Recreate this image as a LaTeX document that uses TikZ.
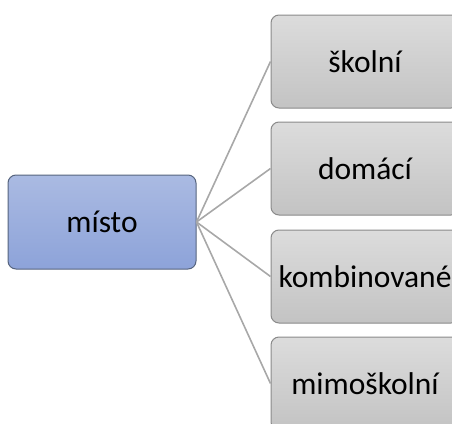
\documentclass[tikz,border=0pt]{standalone}
\usepackage{fontspec}
\setmainfont{Carlito}
\definecolor{btop}{HTML}{AABAE2}
\definecolor{bbot}{HTML}{8DA3D9}
\definecolor{bedge}{HTML}{56647E}
\definecolor{gtop}{HTML}{DCDCDC}
\definecolor{gbot}{HTML}{C3C3C3}
\definecolor{gedge}{HTML}{8A8A8A}
\definecolor{lcol}{HTML}{A8A8A8}
\begin{document}
\begin{tikzpicture}[x=1pt,y=-1pt,
  mainbox/.style={draw=bedge, line width=1pt, rounded corners=8pt,
    top color=btop, bottom color=bbot,
    minimum width=188pt, minimum height=94pt, inner sep=0pt,
    font=\fontsize{31.5}{37}\selectfont},
  subbox/.style={draw=gedge, line width=1pt, rounded corners=8pt,
    top color=gtop, bottom color=gbot,
    minimum width=188pt, minimum height=93pt, inner sep=0pt,
    font=\fontsize{31.5}{37}\selectfont},
  conn/.style={draw=lcol, line width=1.6pt}]
\useasboundingbox (0,0) rectangle (452,423);
\clip (0,0) rectangle (452,423);
\node[mainbox] (m) at (102,222) {místo};
\node[subbox] (s1) at (365,61.5) {školní};
\node[subbox] (s2) at (365,168.5) {domácí};
\node[subbox] (s3) at (365,276.5) {kombinované};
\node[subbox] (s4) at (365,383.5) {mimoškolní};
\foreach \s in {s1,s2,s3,s4}
  \draw[conn] (m.east) -- (\s.west);
\end{tikzpicture}
\end{document}
